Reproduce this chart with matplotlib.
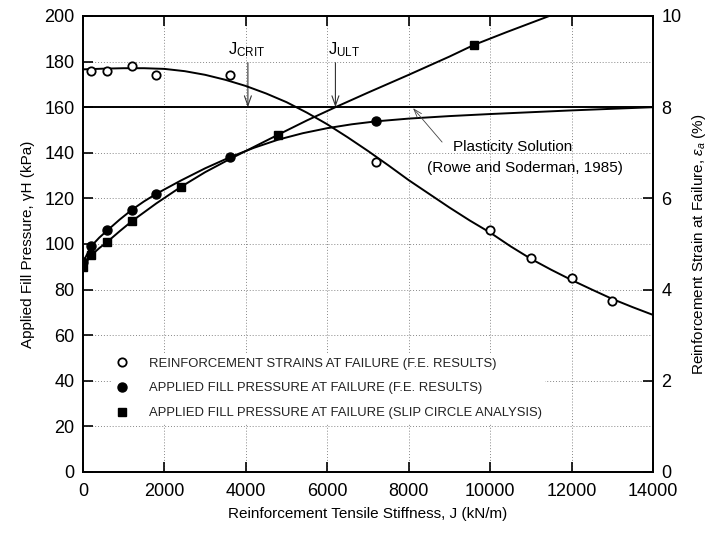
import matplotlib
matplotlib.use("Agg")
import matplotlib.pyplot as plt
from matplotlib.lines import Line2D

plt.rcParams['font.family'] = ['Liberation Sans', 'DejaVu Sans']
plt.rcParams['mathtext.fontset'] = 'custom'
plt.rcParams['mathtext.rm'] = 'Liberation Sans'
plt.rcParams['mathtext.it'] = 'Liberation Sans:italic'

# ---- data ----
# reinforcement strain at failure (F.E. results), strain %
strain_J = [200, 600, 1200, 1800, 3600, 7200, 10000, 11000, 12000, 13000]
strain_pts = [8.8, 8.8, 8.9, 8.7, 8.7, 6.8, 5.3, 4.7, 4.25, 3.75]
strain_curve_J = [0, 500, 1000, 1500, 2000, 2500, 3000, 3500, 4000, 4500,
                  5000, 5500, 6000, 6500, 7000, 7500, 8000, 8500, 9000,
                  9500, 10000, 10500, 11000, 11500, 12000, 12500, 13000,
                  13500, 14000]
strain_curve = [8.83, 8.845, 8.855, 8.855, 8.84, 8.79, 8.71, 8.6, 8.465,
                8.3, 8.11, 7.88, 7.625, 7.34, 7.04, 6.725, 6.4, 6.1, 5.8,
                5.515, 5.25, 4.95, 4.675, 4.435, 4.21, 4.0, 3.795, 3.615,
                3.445]

# applied fill pressure at failure (F.E. results), kPa
fe_J = [0, 200, 600, 1200, 1800, 3600, 7200]
fe_p = [92, 99, 106, 115, 122, 138, 154]
fe_curve_J = [0, 200, 400, 600, 900, 1200, 1500, 1800, 2400, 3000, 3600,
              4200, 4800, 5400, 6000, 6600, 7200, 8000, 9000, 10000, 11000,
              12000, 13000, 14000]
fe_curve = [92, 99, 102.8, 106, 110.7, 115, 118.7, 122, 127.8, 133.2, 138,
            142.2, 145.8, 148.6, 150.8, 152.5, 153.8, 155, 156.1, 157,
            157.8, 158.6, 159.3, 160]

# applied fill pressure at failure (slip circle analysis), kPa
sc_J = [0, 200, 600, 1200, 2400, 4800, 9600]
sc_p = [90, 95, 101, 110, 125, 148, 187.3]
sc_curve_J = [0, 200, 400, 600, 900, 1200, 1800, 2400, 3000, 3600, 4200,
              4800, 5500, 6200, 7000, 8000, 9000, 9600, 10400, 11200, 12000]
sc_curve = [90, 95, 98.2, 101, 105.6, 110, 117.8, 125, 131.5, 137.2, 142.6,
            148, 154.2, 160, 166.4, 174.2, 182.2, 187.3, 192.9, 198.3, 203.7]

plasticity_p = 160
J_crit = 4050
J_ult = 6200

x_ticks = [0, 2000, 4000, 6000, 8000, 10000, 12000, 14000]
y_ticks = [0, 20, 40, 60, 80, 100, 120, 140, 160, 180, 200]
y2_ticks = [0, 2, 4, 6, 8, 10]

labels = ["REINFORCEMENT STRAINS AT FAILURE (F.E. RESULTS)",
          "APPLIED FILL PRESSURE AT FAILURE (F.E. RESULTS)",
          "APPLIED FILL PRESSURE AT FAILURE (SLIP CIRCLE ANALYSIS)"]

# ---- figure ----
fig = plt.figure(figsize=(7.10, 5.38), dpi=100)
ax = fig.add_axes([83/710, 1-472/538, 570/710, 456/538])
ax2 = ax.twinx()

ax.set_xlim(0, 14000)
ax.set_ylim(0, 200)
ax2.set_ylim(0, 10)

ax.set_xticks(x_ticks)
ax.set_yticks(y_ticks)
ax2.set_yticks(y2_ticks)

ax.grid(True, linestyle=(0, (1, 2)), color='#888888', linewidth=0.7)
ax.set_axisbelow(True)

ax.tick_params(axis='both', direction='in', length=7, width=1.2,
               labelsize=13, top=True, pad=6)
ax.tick_params(axis='x', pad=8)
ax2.tick_params(axis='y', direction='in', length=7, width=1.2,
                labelsize=13, pad=6)
for a in (ax, ax2):
    for s in a.spines.values():
        s.set_linewidth(1.3)

lw = 1.4
# plasticity solution
ax.axhline(plasticity_p, color='black', lw=lw, zorder=2)

ax.plot(fe_curve_J, fe_curve, color='black', lw=lw, zorder=3)
ax.plot(fe_J, fe_p, 'o', color='black', ms=6.5, zorder=4)
ax.plot(sc_curve_J, sc_curve, color='black', lw=lw, zorder=3)
ax.plot(sc_J, sc_p, 's', color='black', ms=6, zorder=4)

ax2.plot(strain_curve_J, strain_curve, color='black', lw=lw, zorder=3)
ax2.plot(strain_J, strain_pts, 'o', mfc='white', mec='black', mew=1.3,
         ms=6, zorder=4)

# arrows J_crit / J_ult
for jv, lab, tx in [(J_crit, r"J$_{\mathrm{CRIT}}$", 3560),
                    (J_ult, r"J$_{\mathrm{ULT}}$", 6020)]:
    ax.annotate('', xy=(jv, plasticity_p), xytext=(jv, 179.5),
                arrowprops=dict(arrowstyle='->,head_length=0.7,head_width=0.25',
                                color='#333333', lw=0.8, shrinkA=0, shrinkB=0))
    ax.text(tx, 183, lab, fontsize=12, ha='left', va='baseline')

# plasticity annotation
ax.annotate('', xy=(8106, 159.6), xytext=(8820, 144.7),
            arrowprops=dict(arrowstyle='->,head_length=0.6,head_width=0.2',
                            color='#444444', lw=0.6, shrinkA=0, shrinkB=0))
ax.text(10540, 142.5, "Plasticity Solution", fontsize=11,
        ha='center', va='center')
ax.text(10860, 133.3, "(Rowe and Soderman, 1985)", fontsize=11,
        ha='center', va='center')

ax.set_xlabel("Reinforcement Tensile Stiffness, J (kN/m)", fontsize=11,
              labelpad=5)
ax.set_ylabel("Applied Fill Pressure, \u03b3H (kPa)", fontsize=11,
              labelpad=7)
ax2.set_ylabel(r"Reinforcement Strain at Failure, $\varepsilon_a$ (%)",
               fontsize=11, labelpad=6)

handles = [Line2D([], [], marker='o', ls='none', mfc='white', mec='black',
                  mew=1.3, ms=6),
           Line2D([], [], marker='o', ls='none', color='black', ms=6.5),
           Line2D([], [], marker='s', ls='none', color='black', ms=6)]
leg = ax2.legend(handles, labels, loc='upper left',
                 bbox_to_anchor=((112-83)/570, (472-353.5)/456),
                 frameon=True, fontsize=9.4, handlelength=1.0,
                 handletextpad=1.5, labelspacing=0.98, borderpad=0.3,
                 borderaxespad=0)
leg.get_frame().set_edgecolor('none')
leg.get_frame().set_facecolor('white')
leg.get_frame().set_alpha(1)
for t in leg.get_texts():
    t.set_color('#222222')

fig.savefig("out.png", dpi=100)
